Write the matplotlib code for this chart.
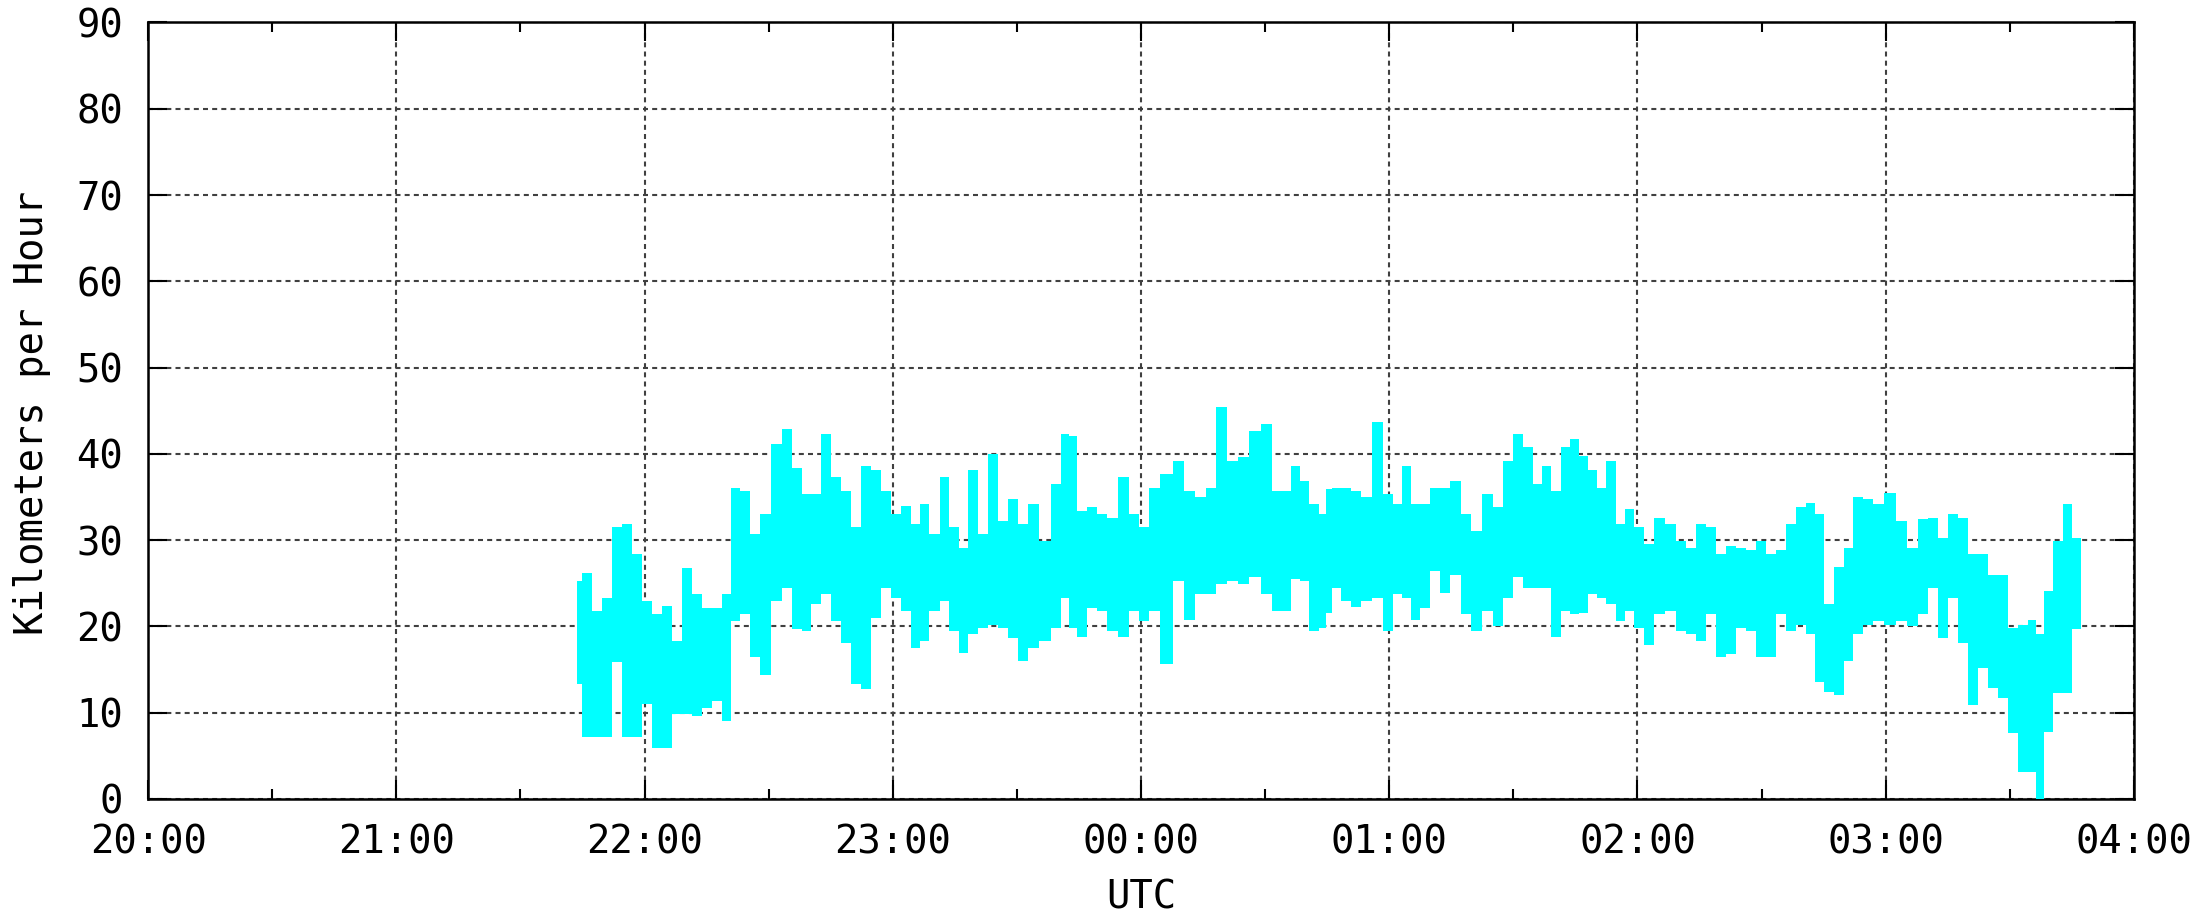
import matplotlib
matplotlib.use("Agg")
import matplotlib.pyplot as plt

plt.rcParams['font.family'] = ['DejaVu Sans Mono']

# minutes after 20:00 UTC, with the low and high edge of the speed cloud (km/h)
minutes = [
    103.6, 106.0, 108.4, 110.9, 113.3, 115.7, 118.1, 120.5, 122.9, 125.4,
    127.8, 130.2, 132.6, 135.0, 137.5, 139.9, 141.9, 144.3, 146.7, 149.1,
    151.9, 154.4, 156.8, 159.2, 161.4,
    163.9, 166.3, 168.7, 171.1, 173.5, 176.0, 178.4, 180.8, 183.2, 185.6,
    187.6, 190.1, 192.5, 194.9, 196.9, 199.7, 201.7, 204.2, 206.6, 209.0,
    211.4, 213.8, 217.0, 219.5, 221.9,
    223.3, 225.7, 228.2, 230.6, 233.0, 235.8, 238.2, 240.6, 243.1, 246.3,
    249.1, 251.9, 254.4, 256.8, 259.6, 262.0, 264.8, 267.6, 270.5, 272.9,
    275.3, 277.3, 279.7, 281.7, 284.2,
    285.2, 287.2, 289.6, 292.0, 294.5, 297.3, 299.7, 302.1, 304.1, 306.5,
    308.6, 311.0, 313.4, 316.2, 318.6, 321.0, 323.9, 326.3, 328.7, 331.1,
    333.5, 336.0, 338.0, 340.4, 342.8, 344.8, 346.9,
    349.1, 351.1, 353.5, 355.9, 358.0, 360.4, 362.8, 365.2, 368.0, 370.4,
    372.9, 375.3, 377.7, 380.1, 382.5, 384.9, 387.4, 389.8, 392.2, 394.6,
    397.0, 399.5, 401.9, 403.9, 406.3, 408.8,
    410.9, 413.4, 415.8, 418.2, 421.0, 423.8, 426.3, 429.1, 431.5, 433.9,
    436.3, 438.7, 441.2, 443.6, 446.0, 448.4, 450.8, 453.3, 455.3, 457.3,
    459.3, 461.7, 464.1, 466.1, 467.3,
]
speed_low = [
    13.3, 7.2, 7.2, 7.2, 15.9, 7.2, 7.2, 11.0, 5.9, 5.9,
    9.8, 9.8, 9.6, 10.5, 11.3, 9.0, 20.6, 21.4, 16.4, 14.4,
    22.9, 24.5, 19.7, 19.5, 22.6,
    23.7, 20.6, 18.1, 13.3, 12.7, 21.0, 24.5, 23.3, 21.8, 17.5,
    18.3, 21.8, 22.9, 19.5, 16.9, 19.1, 19.8, 20.2, 19.8, 18.7,
    16.0, 17.5, 18.3, 19.8, 23.3,
    19.8, 18.8, 22.1, 21.8, 19.5, 18.8, 21.8, 20.6, 21.8, 15.6,
    25.3, 20.8, 23.7, 23.7, 24.9, 25.3, 24.9, 25.7, 23.7, 21.8,
    21.8, 25.5, 25.3, 19.5, 19.8,
    21.6, 24.5, 23.0, 22.3, 22.9, 23.3, 19.5, 23.7, 23.3, 20.8,
    22.1, 26.4, 23.9, 26.0, 21.4, 19.5, 21.8, 20.0, 23.3, 25.7,
    24.5, 24.5, 24.5, 18.8, 21.8, 21.4, 21.6,
    23.7, 23.3, 22.6, 20.6, 21.8, 19.8, 17.8, 21.4, 21.8, 19.5,
    19.1, 18.3, 21.4, 16.4, 16.8, 19.8, 19.5, 16.4, 16.4, 21.4,
    19.5, 20.2, 19.1, 13.6, 12.4, 12.0,
    16.0, 19.1, 20.2, 20.6, 20.2, 20.6, 20.0, 21.4, 24.5, 18.7,
    23.3, 18.1, 10.9, 15.2, 12.9, 11.7, 7.6, 3.1, 3.1, 0.0,
    7.8, 12.3, 12.3, 19.7, 19.7,
]
speed_high = [
    25.3, 26.2, 21.8, 23.3, 31.5, 31.9, 28.4, 22.9, 21.4, 22.4,
    18.3, 26.8, 23.7, 22.1, 22.1, 23.7, 36.1, 35.7, 30.7, 33.0,
    41.2, 42.9, 38.4, 35.3, 35.3,
    42.3, 37.3, 35.7, 31.5, 38.6, 38.1, 35.7, 33.0, 34.0, 31.9,
    34.2, 30.7, 37.3, 31.5, 29.1, 38.1, 30.7, 40.0, 32.2, 34.8,
    31.9, 34.2, 29.9, 36.5, 42.3,
    42.1, 33.4, 33.8, 33.0, 32.6, 37.3, 33.0, 31.5, 36.1, 37.7,
    39.2, 35.7, 35.0, 36.1, 45.4, 39.2, 39.6, 42.7, 43.5, 35.7,
    35.7, 38.6, 36.9, 34.2, 33.0,
    35.9, 36.1, 36.1, 35.7, 35.0, 43.7, 35.3, 34.2, 38.6, 34.2,
    34.2, 36.1, 36.1, 36.9, 33.0, 31.1, 35.3, 33.8, 39.2, 42.3,
    40.8, 36.5, 38.6, 35.7, 40.8, 41.7, 39.7,
    38.1, 36.1, 39.2, 31.9, 33.6, 31.5, 29.5, 32.6, 31.9, 29.9,
    29.1, 31.9, 31.5, 28.4, 29.3, 29.1, 28.8, 29.9, 28.4, 28.8,
    31.9, 33.8, 34.3, 33.0, 22.6, 26.9,
    29.1, 35.0, 34.8, 34.2, 35.5, 32.2, 29.1, 32.4, 32.6, 30.3,
    33.0, 32.6, 28.4, 28.4, 26.0, 26.0, 19.8, 20.2, 20.8, 19.1,
    24.1, 29.9, 34.2, 30.3, 30.3,
]

hour_ticks = [0, 60, 120, 180, 240, 300, 360, 420, 480]
hour_labels = ["20:00", "21:00", "22:00", "23:00", "00:00",
               "01:00", "02:00", "03:00", "04:00"]
half_hour_ticks = [30, 90, 150, 210, 270, 330, 390, 450]
speed_ticks = [0, 10, 20, 30, 40, 50, 60, 70, 80, 90]

fig = plt.figure(figsize=(22.1, 9.21), dpi=100)
ax = fig.add_axes([0.0670, 0.1325, 0.8986, 0.8431])

ax.fill_between(minutes, speed_low, speed_high, step="mid",
                color="#00ffff", linewidth=0, antialiased=False, zorder=3)

ax.set_xlim(0, 480)
ax.set_ylim(0, 90)
ax.set_xticks(hour_ticks)
ax.set_xticklabels(hour_labels)
ax.set_xticks(half_hour_ticks, minor=True)
ax.set_yticks(speed_ticks)

ax.grid(True, which="major", color="#404040", linewidth=1.5,
        linestyle=(0, (2.4, 2.0)), zorder=1)
ax.set_axisbelow(True)

ax.tick_params(which="both", direction="in", top=True, right=True,
               width=1.5, color="black", labelsize=28, pad=18)
ax.tick_params(which="major", length=14)
ax.tick_params(which="minor", length=7)
for side in ax.spines.values():
    side.set_linewidth(1.8)
    side.set_color("black")

ax.set_ylabel("Kilometers per Hour", fontsize=28)
ax.yaxis.set_label_coords(-0.049, 0.497)
ax.set_xlabel("UTC", fontsize=28)
ax.xaxis.set_label_coords(0.5, -0.103)

fig.savefig("out.png", dpi=100)
